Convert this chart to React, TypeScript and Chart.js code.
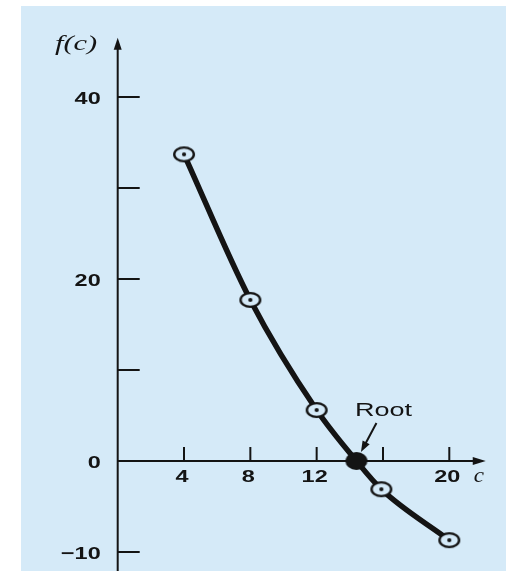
import { useEffect, useRef } from 'react';
import { Chart, registerables } from 'chart.js';

Chart.register(...registerables);

// f(c) sampled at several values of c, and the root where the curve crosses zero
const cValues = [4, 8, 12, 15.9, 20];
const fValues = [33.7, 17.7, 5.6, -3.1, -8.7];
const rootC = 14.4;
const rootF = 0;

// axis decorations
const xTickMarks = [4, 8, 12, 16, 20];
const xTickLabels = ['4', '8', '12', '', '20'];
const yTickMarks = [40, 30, 20, 10, -10];
const yLabelValues = [40, 20, 0, -10];
const yLabelTexts = ['40', '20', '0', '\u221210'];

const X_MIN = 0;
const X_MAX = 22.5;
const Y_MIN = -12;
const Y_MAX = 46;
const X_ARROW_TIP = 22.2;
const Y_ARROW_TIP = 46.5;

// design size of the figure; everything is laid out relative to it
const BASE_W = 506;
const BASE_H = 571;

const PANEL = '#d5eaf8';
const INK = '#141414';

function stretchedText(
  ctx: CanvasRenderingContext2D,
  text: string,
  x: number,
  y: number,
  font: string,
  align: CanvasTextAlign,
  sx: number
) {
  ctx.save();
  ctx.translate(x, y);
  ctx.scale(sx, 1);
  ctx.font = font;
  ctx.textAlign = align;
  ctx.textBaseline = 'alphabetic';
  ctx.fillStyle = INK;
  ctx.fillText(text, 0, 0);
  ctx.restore();
}

function ringMarker(): HTMLCanvasElement {
  const c = document.createElement('canvas');
  c.width = 26;
  c.height = 20;
  const g = c.getContext('2d')!;
  g.beginPath();
  g.ellipse(13, 10, 9.8, 6.9, 0, 0, Math.PI * 2);
  g.fillStyle = PANEL;
  g.fill();
  g.lineWidth = 2.4;
  g.strokeStyle = INK;
  g.stroke();
  g.beginPath();
  g.arc(13, 10, 2.1, 0, Math.PI * 2);
  g.fillStyle = INK;
  g.fill();
  return c;
}

function rootMarker(): HTMLCanvasElement {
  const c = document.createElement('canvas');
  c.width = 26;
  c.height = 22;
  const g = c.getContext('2d')!;
  g.beginPath();
  g.ellipse(13, 11, 11, 9, 0, 0, Math.PI * 2);
  g.fillStyle = INK;
  g.fill();
  return c;
}

function makeAxesPlugin(kx: number, ky: number) {
  return {
    id: 'handDrawnAxes',
    beforeDraw(chart: any) {
      const ctx = chart.ctx as CanvasRenderingContext2D;
      ctx.save();
      ctx.fillStyle = '#ffffff';
      ctx.fillRect(0, 0, chart.width, chart.height);
      ctx.fillStyle = PANEL;
      ctx.fillRect(21 * kx, 6 * ky, chart.width - 21 * kx, chart.height - 6 * ky);
      ctx.restore();
    },
    beforeDatasetsDraw(chart: any) {
      const ctx = chart.ctx as CanvasRenderingContext2D;
      const xs = chart.scales.x;
      const ys = chart.scales.y;
      const x0 = xs.getPixelForValue(0);
      const y0 = ys.getPixelForValue(0);
      const yTip = ys.getPixelForValue(Y_ARROW_TIP);
      const xTip = xs.getPixelForValue(X_ARROW_TIP);

      ctx.save();
      ctx.strokeStyle = INK;
      ctx.fillStyle = INK;
      ctx.lineWidth = 2;
      ctx.lineCap = 'butt';

      // vertical axis with arrow
      ctx.beginPath();
      ctx.moveTo(x0, yTip + 8);
      ctx.lineTo(x0, chart.height);
      ctx.stroke();
      ctx.beginPath();
      ctx.moveTo(x0, yTip);
      ctx.lineTo(x0 - 4, yTip + 12);
      ctx.lineTo(x0 + 4, yTip + 12);
      ctx.closePath();
      ctx.fill();

      // horizontal axis with arrow
      ctx.beginPath();
      ctx.moveTo(x0, y0);
      ctx.lineTo(xTip - 8, y0);
      ctx.stroke();
      ctx.beginPath();
      ctx.moveTo(xTip, y0);
      ctx.lineTo(xTip - 13, y0 - 4);
      ctx.lineTo(xTip - 13, y0 + 4);
      ctx.closePath();
      ctx.fill();

      // tick marks
      yTickMarks.forEach((v) => {
        const py = ys.getPixelForValue(v);
        ctx.beginPath();
        ctx.moveTo(x0, py);
        ctx.lineTo(x0 + 22 * kx, py);
        ctx.stroke();
      });
      xTickMarks.forEach((v) => {
        const px = xs.getPixelForValue(v);
        ctx.beginPath();
        ctx.moveTo(px, y0);
        ctx.lineTo(px, y0 - 14 * ky);
        ctx.stroke();
      });
      ctx.restore();

      const tickFont = 'bold 17px "Liberation Sans", Arial, sans-serif';
      yLabelValues.forEach((v, i) => {
        const py = ys.getPixelForValue(v);
        stretchedText(ctx, yLabelTexts[i], x0 - 17 * kx, py + 6.5 * ky, tickFont, 'right', 1.38);
      });
      xTickMarks.forEach((v, i) => {
        if (!xTickLabels[i]) return;
        const px = xs.getPixelForValue(v);
        stretchedText(ctx, xTickLabels[i], px - 2 * kx, y0 + 20.5 * ky, tickFont, 'center', 1.38);
      });

      // axis titles
      const titleFont = 'italic 21px "Liberation Serif", "Times New Roman", serif';
      stretchedText(ctx, 'f(c)', 55 * kx, 50 * ky, titleFont, 'left', 1.45);
      stretchedText(ctx, 'c', xTip - 7 * kx, y0 + 20.5 * ky, titleFont, 'center', 1.1);
    },
    afterDatasetsDraw(chart: any) {
      const ctx = chart.ctx as CanvasRenderingContext2D;
      const rx = chart.scales.x.getPixelForValue(rootC);
      const ry = chart.scales.y.getPixelForValue(rootF);

      stretchedText(ctx, 'Root', rx + 27 * kx, ry - 45.5 * ky, '18px "Liberation Sans", Arial, sans-serif', 'center', 1.5);

      // pointer from the label down to the root
      const tail = { x: rx + 20 * kx, y: ry - 38 * ky };
      const tip = { x: rx + 4.5 * kx, y: ry - 9 * ky };
      const ang = Math.atan2(tip.y - tail.y, tip.x - tail.x);
      ctx.save();
      ctx.strokeStyle = INK;
      ctx.fillStyle = INK;
      ctx.lineWidth = 2;
      ctx.beginPath();
      ctx.moveTo(tail.x, tail.y);
      ctx.lineTo(tip.x - 8 * Math.cos(ang), tip.y - 8 * Math.sin(ang));
      ctx.stroke();
      ctx.beginPath();
      ctx.moveTo(tip.x, tip.y);
      ctx.lineTo(tip.x - 11 * Math.cos(ang) + 4 * Math.sin(ang), tip.y - 11 * Math.sin(ang) - 4 * Math.cos(ang));
      ctx.lineTo(tip.x - 11 * Math.cos(ang) - 4 * Math.sin(ang), tip.y - 11 * Math.sin(ang) + 4 * Math.cos(ang));
      ctx.closePath();
      ctx.fill();
      ctx.restore();
    },
  };
}

export default function App() {
  const boxRef = useRef<HTMLDivElement | null>(null);
  const canvasRef = useRef<HTMLCanvasElement | null>(null);

  useEffect(() => {
    const canvas = canvasRef.current;
    const box = boxRef.current;
    if (!canvas || !box) return;

    const w = box.clientWidth || BASE_W;
    const h = box.clientHeight || BASE_H;
    const kx = w / BASE_W;
    const ky = h / BASE_H;

    const samples = cValues.map((c, i) => ({ x: c, y: fValues[i] }));
    const curve = [...samples, { x: rootC, y: rootF }].sort((a, b) => a.x - b.x);

    const chart = new Chart(canvas, {
      type: 'scatter',
      data: {
        datasets: [
          {
            label: 'root',
            data: [{ x: rootC, y: rootF }],
            pointStyle: rootMarker() as any,
            pointRadius: 11,
            showLine: false,
            order: 1,
            clip: false as any,
          },
          {
            label: 'f(c)',
            data: samples,
            pointStyle: ringMarker() as any,
            pointRadius: 11,
            showLine: false,
            order: 2,
            clip: false as any,
          },
          {
            label: 'curve',
            data: curve,
            showLine: true,
            borderColor: INK,
            borderWidth: 5.5,
            pointRadius: 0,
            cubicInterpolationMode: 'monotone',
            order: 3,
            clip: false as any,
          },
        ],
      },
      options: {
        animation: false,
        responsive: true,
        maintainAspectRatio: false,
        devicePixelRatio: 1,
        layout: {
          autoPadding: false,
          padding: { left: 117.7 * kx, right: 15.25 * kx, top: 42.4 * ky, bottom: 0.8 * ky },
        },
        plugins: {
          legend: { display: false },
          tooltip: { enabled: false },
        },
        events: [],
        scales: {
          x: { type: 'linear', min: X_MIN, max: X_MAX, display: false },
          y: { type: 'linear', min: Y_MIN, max: Y_MAX, display: false },
        },
      },
      plugins: [makeAxesPlugin(kx, ky)],
    });

    return () => chart.destroy();
  }, []);

  return (
    <div
      ref={boxRef}
      style={{ position: 'fixed', left: 0, top: 0, width: '100vw', height: '100vh', background: '#fff' }}
    >
      <canvas ref={canvasRef} />
    </div>
  );
}
